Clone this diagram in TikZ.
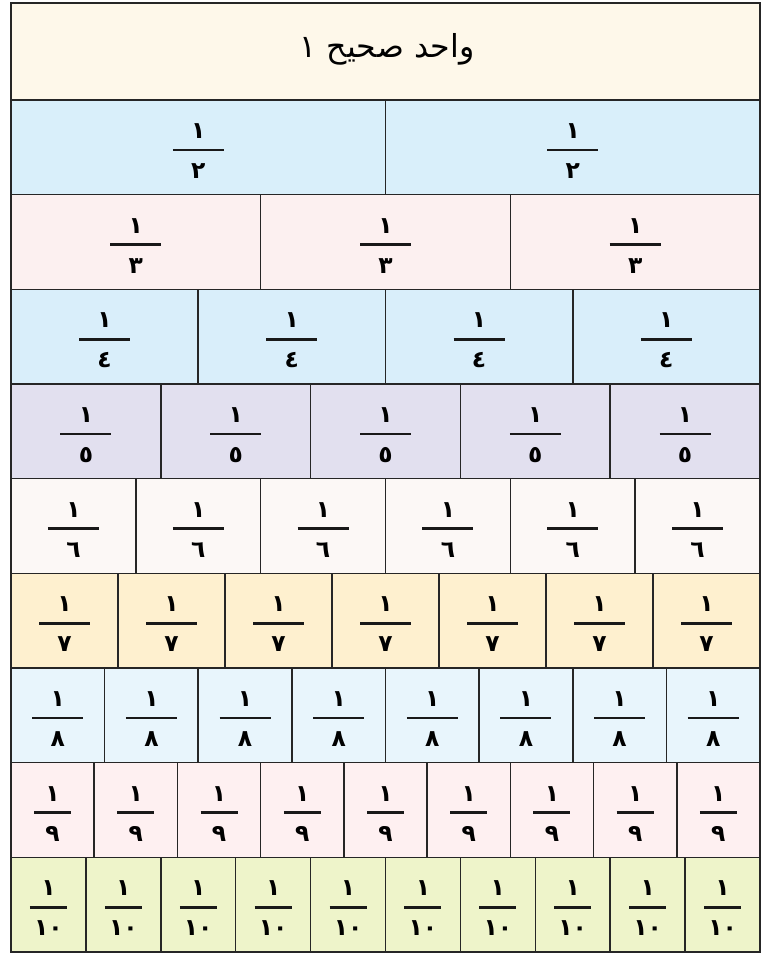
\documentclass[tikz,border=0pt]{standalone}
\usepackage{fontspec}
\usepackage{xcolor}
\newfontfamily\arabicfont[Script=Arabic]{DejaVu Sans}
\TeXXeTstate=1
\definecolor{wholeFill}{HTML}{FEF8EA}
\definecolor{halfFill}{HTML}{D9EFFA}
\definecolor{thirdFill}{HTML}{FCF0F0}
\definecolor{quarterFill}{HTML}{D9EEFA}
\definecolor{fifthFill}{HTML}{E2E0EF}
\definecolor{sixthFill}{HTML}{FCF8F6}
\definecolor{seventhFill}{HTML}{FEF0CF}
\definecolor{eighthFill}{HTML}{E8F5FC}
\definecolor{ninthFill}{HTML}{FEF0F1}
\definecolor{tenthFill}{HTML}{EEF4CA}
\tikzset{
  cell/.style={draw=black!85,line width=1.3pt},
  digit/.style={font=\arabicfont\bfseries\fontsize{20}{24}\selectfont,inner sep=0pt},
  fracbar/.style={line width=2.1pt,black!90},
}

\begin{document}
\begin{tikzpicture}[x=0.03cm,y=-0.03cm]
  \useasboundingbox (0,0) rectangle (761,953);
  % the whole
  \filldraw[cell,fill=wholeFill] (11,3) rectangle (760,100);
  \node[font=\arabicfont\fontsize{27}{31}\selectfont] (whole) at (387,49) {\beginR واحد صحيح ١\endR};
  % one row per denominator
  \foreach \n/\d/\col/\bw [count=\r] in {2/٢/halfFill/51,3/٣/thirdFill/51,4/٤/quarterFill/51,5/٥/fifthFill/51,6/٦/sixthFill/51,7/٧/seventhFill/51,8/٨/eighthFill/51,9/٩/ninthFill/37,10/١٠/tenthFill/37} {
    \pgfmathsetmacro{\ytop}{100+(\r-1)*94.67}
    \pgfmathsetmacro{\w}{749/\n}
    \foreach \k in {1,...,\n} {
      \pgfmathsetmacro{\xl}{11+(\k-1)*\w}
      \pgfmathsetmacro{\xc}{\xl+\w/2}
      \filldraw[cell,fill=\col] (\xl,\ytop) rectangle ++(\w,94.67);
      \node[digit] (num\n-\k) at (\xc,\ytop+31) {١};
      \draw[fracbar] (\xc-\bw/2,\ytop+50) -- (\xc+\bw/2,\ytop+50);
      \node[digit] (den\n-\k) at (\xc,\ytop+71) {\d};
    }
  }
  \draw[line width=1.8pt,black!85] (11,3) rectangle (760,952);
\end{tikzpicture}
\end{document}
